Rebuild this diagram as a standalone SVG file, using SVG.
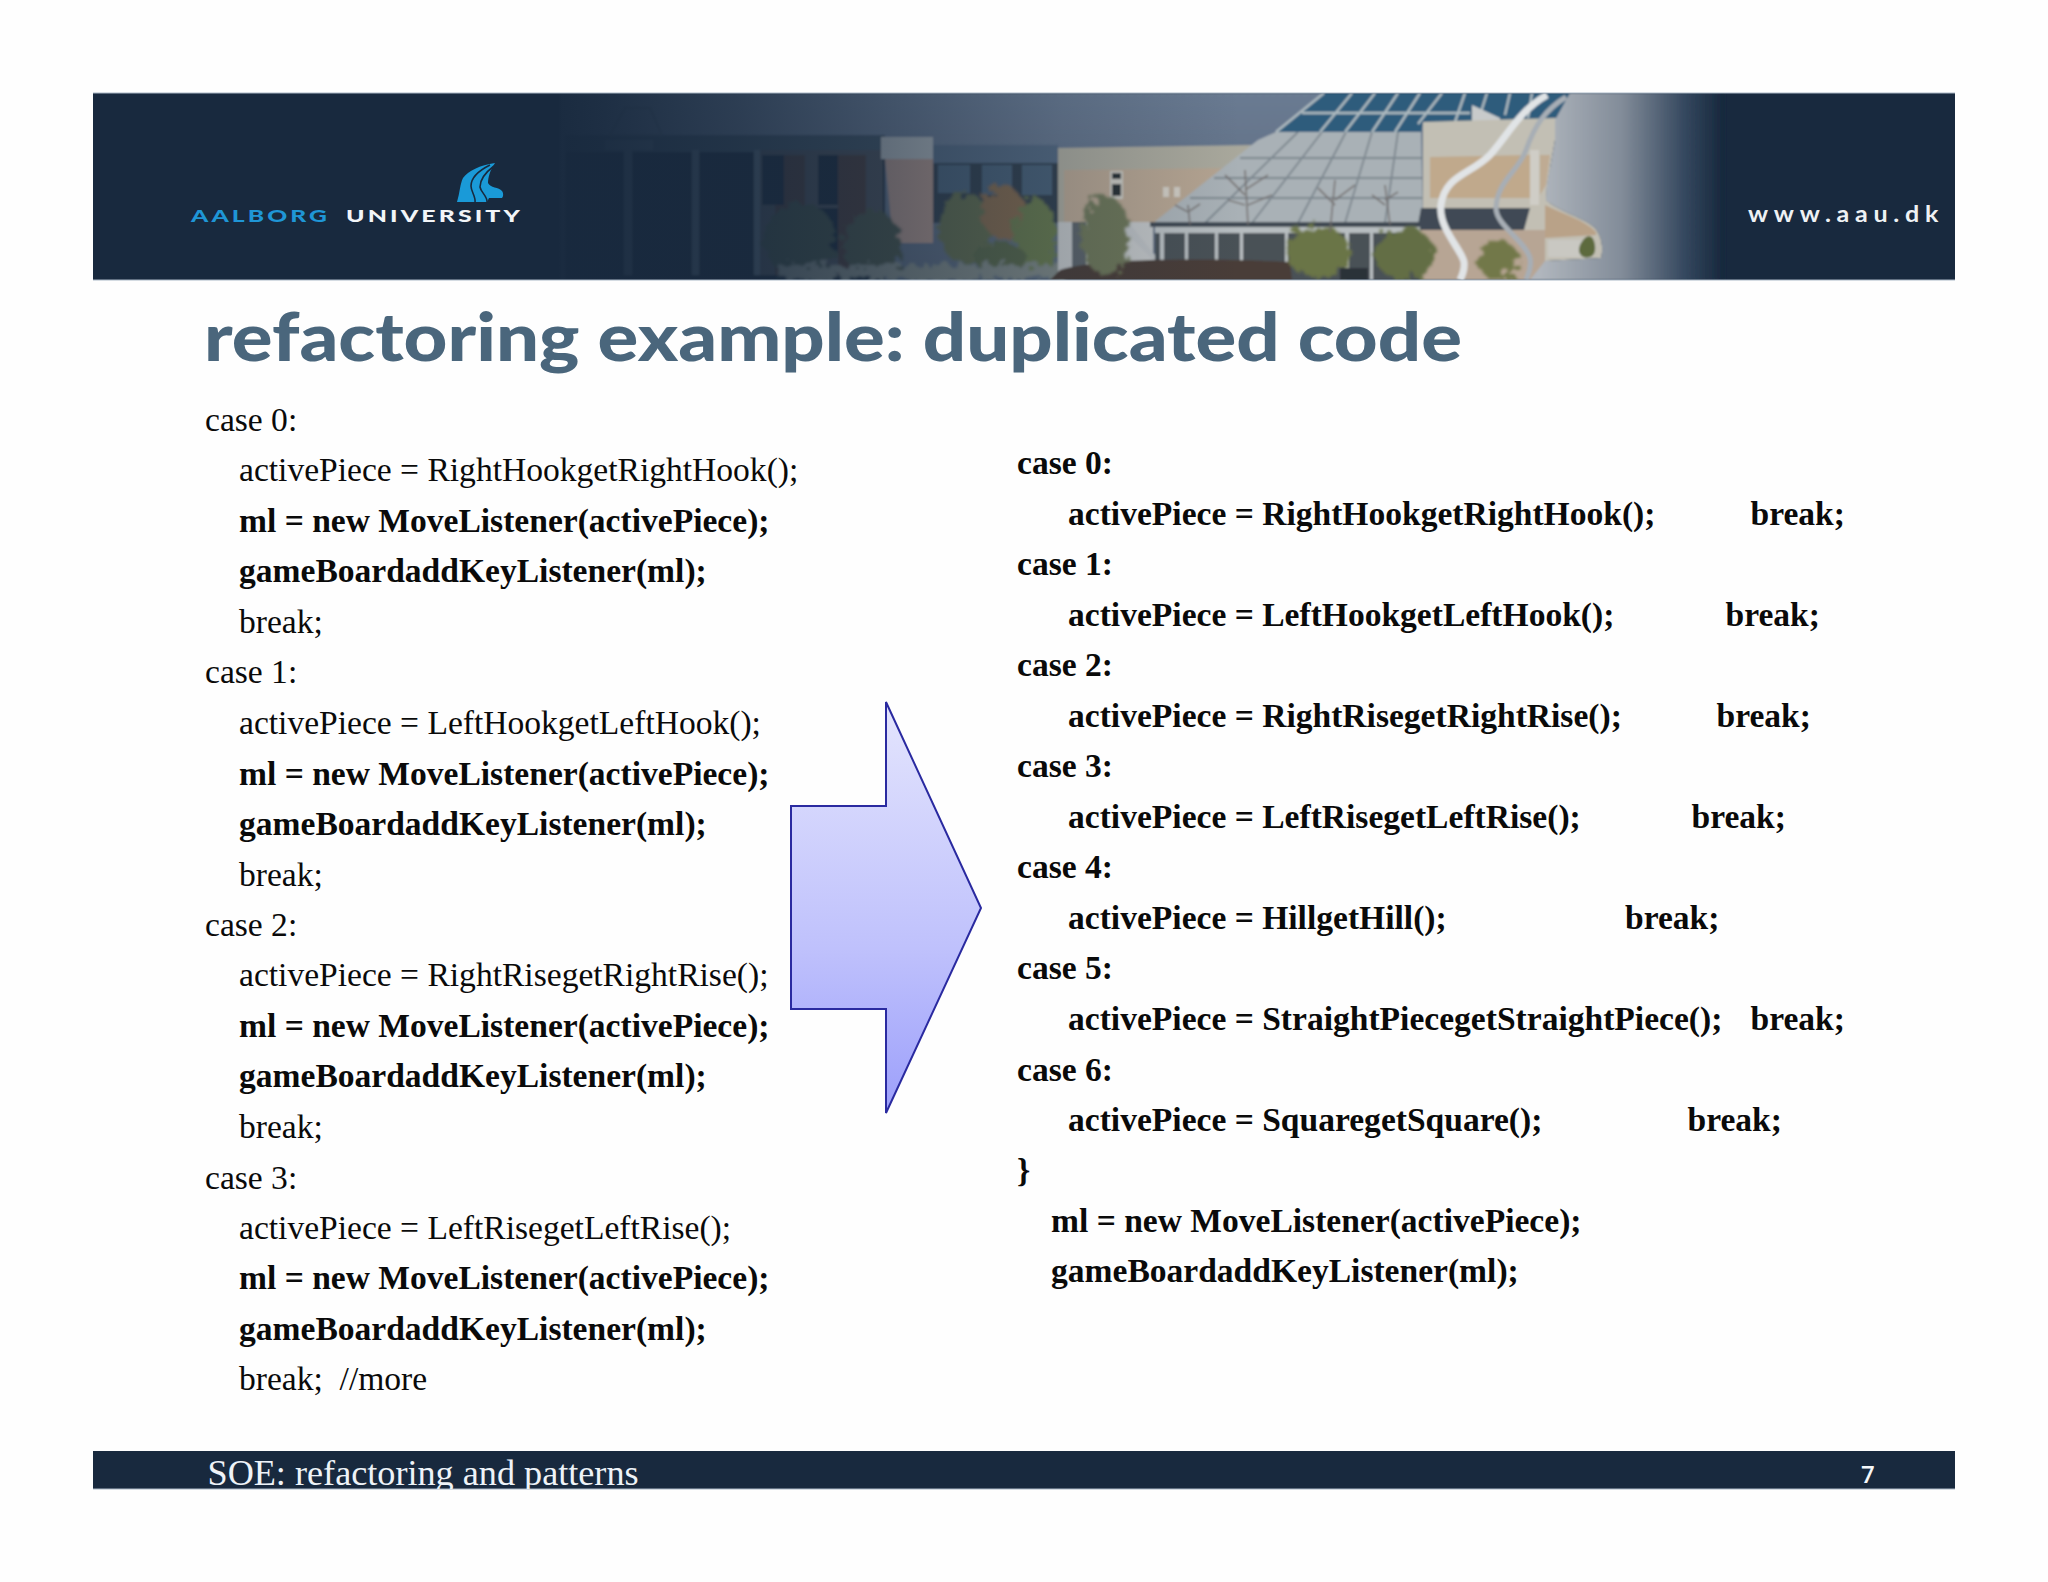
<svg xmlns="http://www.w3.org/2000/svg" width="2048" height="1582" viewBox="0 0 2048 1582">
<style>
.t{font-family:"Liberation Serif","Times New Roman",serif;font-size:33.55px;fill:#0a0a0a}
.b{font-weight:700}
.s{font-family:Lato,"Open Sans",sans-serif;font-weight:900}
.glass{stroke:#7d878f;stroke-width:1.8;fill:none}
.pane{stroke:#aebabf;stroke-width:2.4;fill:none}
.twig{stroke:#6f6a68;stroke-width:1.8;fill:none;opacity:.75}
</style>
<defs>
<linearGradient id="arrowFill" x1="0" y1="0" x2="0" y2="1"><stop offset="0" stop-color="#e4e5fd"/><stop offset="0.6" stop-color="#bfc1fc"/><stop offset="1" stop-color="#9c9ffb"/></linearGradient>
<linearGradient id="fade" gradientUnits="userSpaceOnUse" x1="530" y1="0" x2="1240" y2="0"><stop offset="0" stop-color="#18293e" stop-opacity="1"/><stop offset="0.1" stop-color="#18293e" stop-opacity=".93"/><stop offset="0.3" stop-color="#18293e" stop-opacity=".74"/><stop offset="0.5" stop-color="#18293e" stop-opacity=".5"/><stop offset="0.75" stop-color="#18293e" stop-opacity=".2"/><stop offset="1" stop-color="#18293e" stop-opacity="0"/></linearGradient>
<linearGradient id="rightFade" gradientUnits="userSpaceOnUse" x1="1540" y1="0" x2="1722" y2="0"><stop offset="0" stop-color="#b0b6bd"/><stop offset="0.45" stop-color="#828c99"/><stop offset="0.8" stop-color="#34475e"/><stop offset="1" stop-color="#18293e"/></linearGradient>
<linearGradient id="sky" x1="0" y1="0" x2="0" y2="1"><stop offset="0" stop-color="#6a7b92"/><stop offset="1" stop-color="#59677a"/></linearGradient>
<filter id="soft" x="-2%" y="-5%" width="104%" height="110%"><feGaussianBlur stdDeviation="1.3"/></filter>
<filter id="leaf" x="-20%" y="-20%" width="140%" height="140%"><feTurbulence type="fractalNoise" baseFrequency="0.12" numOctaves="2" seed="4" result="n"/><feDisplacementMap in="SourceGraphic" in2="n" scale="22"/><feGaussianBlur stdDeviation="1.2"/></filter>
<clipPath id="bannerClip"><rect x="93" y="93" width="1862" height="187"/></clipPath>
<clipPath id="footClip"><rect x="93" y="1451" width="1862" height="38"/></clipPath>
</defs>
<rect width="2048" height="1582" fill="#fefefe"/>

<g id="banner" clip-path="url(#bannerClip)">
<rect x="93" y="93" width="1862" height="187" fill="#18293e"/>
<g id="photo" filter="url(#soft)">
<rect x="560" y="93" width="990" height="187" fill="url(#sky)"/>
<!-- left wing -->
<rect x="565" y="150" width="320" height="130" fill="#1d2b3a"/>
<rect x="565" y="135" width="320" height="17" fill="#3f5264"/>
<path d="M610 135 L625 108 L650 108 L662 135Z" fill="none" stroke="#566676" stroke-width="2"/>
<path d="M605 140h48v10h-48z" fill="#586a7a"/>
<path d="M624 150h8v125h-8zM692 150h7v125h-7zM754 150h6v125h-6z" fill="#5a6b78"/>
<rect x="760" y="150" width="123" height="125" fill="#4a5058"/>
<path d="M775 155h30v120h-30zM838 155h28v120h-28z" fill="#4a3c3c"/>
<path d="M762 155h22v50h-22zM818 155h20v50h-20zM818 208h20v45h-20z" fill="#1b2a3a"/>
<path d="M883 137h50v106h-40z" fill="#a99087"/>
<path d="M881 137h52v22h-52z" fill="#a8afb3"/>
<rect x="933" y="145" width="125" height="18" fill="#53687f"/>
<rect x="933" y="163" width="125" height="60" fill="#333f4d"/>
<path d="M938 165h32v28h-32zM982 165h30v30h-30zM1022 165h30v30h-30z" fill="#4a6076"/>
<!-- trees left -->
<g filter="url(#leaf)">
<ellipse cx="800" cy="240" rx="36" ry="38" fill="#414f46"/>
<ellipse cx="872" cy="245" rx="30" ry="34" fill="#46534a"/>
<ellipse cx="965" cy="228" rx="26" ry="36" fill="#5f6a4e"/>
<ellipse cx="1003" cy="212" rx="22" ry="26" fill="#80684e"/>
<ellipse cx="1035" cy="238" rx="22" ry="40" fill="#66784e"/>
<ellipse cx="1000" cy="258" rx="26" ry="16" fill="#566548"/>
<rect x="780" y="265" width="290" height="15" fill="#7d8683"/>
</g>
<!-- middle wall -->
<path d="M1058 148 L1255 145 L1155 223 L1125 280 L1058 280Z" fill="#a9a89c"/>
<path d="M1064 170 L1230 168 L1160 222 L1064 222Z" fill="#b5a491"/>
<rect x="1058" y="222" width="95" height="58" fill="#c0c3c4"/>
<path d="M1072 222h14v45h-14zM1090 225h10v40h-10z" fill="#5c6369"/>
<rect x="1110" y="171" width="13" height="28" fill="#c9c8c0"/><rect x="1112" y="173" width="9" height="6" fill="#2c3036"/><rect x="1112" y="184" width="9" height="12" fill="#2c3036"/>
<path d="M1163 187h6v10h-6zM1174 187h6v10h-6z" fill="#cfcbc2"/>
<!-- lower glass roof -->
<path d="M1258 140 L1276 132 L1421 132 L1423 223 L1153 223Z" fill="#a9b1b6"/>
<path class="glass" d="M1298 132 L1205 223M1322 132 L1252 223M1346 132 L1298 223M1372 132 L1345 223M1398 132 L1385 223M1240 158H1422M1214 178H1422M1190 198H1423"/>
<!-- upper glass -->
<path d="M1324 93 L1572 93 L1555 120 L1423 122 L1421 132 L1276 132Z" fill="#2f5c7c"/>
<path class="pane" d="M1324 93 L1276 132M1302 113H1470M1352 93 L1320 132M1375 93 L1345 132M1398 93 L1372 132M1420 93 L1395 132M1442 93 L1418 124M1465 93 L1455 122M1487 93 L1480 115M1510 93 L1505 115M1532 93 L1528 118"/>
<path d="M1472 122 L1472 105 L1500 118 L1500 122Z" fill="#c8cacb"/>
<!-- right wall with piano tail -->
<path d="M1423 122 L1557 118 L1555 140 L1547 185 L1546 200 C1560 212 1585 218 1595 228 C1603 238 1603 250 1601 258 L1545 261 L1530 280 L1423 280Z" fill="#c2bfb4"/>
<path d="M1430 157 L1530 155 L1530 198 L1430 198Z" fill="#c0a98c"/>
<path d="M1540 155 L1550 155 L1546 185 L1540 195Z" fill="#bfab93"/>
<path d="M1545 205 C1565 215 1585 220 1596 232 L1596 235 L1545 238Z" fill="#b9a288"/>
<rect x="1548" y="240" width="38" height="17" fill="#c9c8c2"/>
<path d="M1580 245c6-12 12-10 14-4s2 14-4 16-14-2-10-12z" fill="#5d6b3e"/>
<rect x="1530" y="150" width="9" height="55" fill="#cfcdc6"/>
<path d="M1421 208 L1530 208 L1524 230 L1417 230Z" fill="#3f4a55"/>
<path d="M1417 231h107v5h-107z" fill="#aab0b2"/>
<!-- ground storey -->
<rect x="1150" y="222" width="270" height="5" fill="#414a52"/>
<rect x="1155" y="227" width="265" height="6" fill="#b7bdc0"/>
<rect x="1155" y="233" width="265" height="47" fill="#4a5156"/>
<path d="M1160 233h4v40h-4zM1185 233h3v40h-3zM1215 233h3v40h-3zM1240 233h3v40h-3zM1285 233h3v47h-3zM1345 233h4v47h-4zM1370 233h3v47h-3z" fill="#b9bfc2"/>
<path d="M1128 222 L1155 255 L1155 262 L1125 232Z" fill="#b9bdc0"/>
<rect x="1420" y="230" width="125" height="50" fill="#b7a594"/>
<!-- hedge and trees -->
<path d="M1050 280 L1060 270 C1100 258 1200 258 1290 262 L1292 280Z" fill="#4a3d37"/>
<g filter="url(#leaf)">
<ellipse cx="1105" cy="235" rx="24" ry="40" fill="#6d7658"/>
<ellipse cx="1318" cy="252" rx="32" ry="26" fill="#6b7547"/>
<ellipse cx="1405" cy="254" rx="30" ry="26" fill="#636e44"/>
<ellipse cx="1498" cy="260" rx="20" ry="20" fill="#727849"/>
</g>
<rect x="1340" y="268" width="28" height="12" fill="#2c3238"/>
<path class="twig" d="M1248 225 L1245 170M1245 195 L1225 175M1245 190 L1268 175M1245 205 L1228 200M1248 205 L1272 195M1330 232 L1335 180M1335 205 L1318 188M1335 200 L1355 185M1390 225 L1385 185M1385 205 L1372 195M1385 200 L1398 192M1190 225 L1188 205M1188 212 L1175 205M1188 212 L1200 204"/>
<!-- grey tail fade -->
<path d="M1557 93 L1725 93 L1725 280 L1530 280 L1545 261 L1601 258 C1603 250 1603 238 1595 228 C1585 218 1560 212 1546 200 L1547 185 L1555 140 L1555 120 L1570 93Z" fill="url(#rightFade)"/>
<!-- swooshes -->
<path d="M1566 97 C1545 110 1535 125 1526 150 C1518 172 1498 180 1496 207 C1495 225 1525 240 1530 258 C1532 268 1528 274 1526 280" fill="none" stroke="#a7aeb5" stroke-width="5"/>
<path d="M1547 95 C1520 110 1508 135 1490 155 C1470 175 1445 175 1441 205 C1438 228 1462 250 1464 262 C1465 270 1462 276 1460 280" fill="none" stroke="#e1e4e6" stroke-width="7"/>
</g>
<rect x="530" y="93" width="710" height="187" fill="url(#fade)"/>
<g id="logo">
<path d="M457 202 C460 192 460 184 463 178 C468 171 480 165 495 163 C490 170 488 178 488 183 C490 188 499 187 502 191 C504 194 503 197 502 198 L489 198 L487 202 L474 202 L471 202Z" fill="#1a9ad8"/>
<path d="M490 165 C478 171 471 178 471 186 C471 192 476 196 475 203M494 166 C486 172 480 180 480 187 C481 193 488 196 487 203" fill="none" stroke="#18293e" stroke-width="1.6"/>
</g>
<text class="s" x="191" y="221.5" font-size="16" letter-spacing="2" fill="#1f96d6" textLength="139" lengthAdjust="spacingAndGlyphs">AALBORG</text>
<text class="s" x="346" y="221.5" font-size="16" letter-spacing="2" fill="#f2f5f8" textLength="177" lengthAdjust="spacingAndGlyphs">UNIVERSITY</text>
<text class="s" x="1748" y="222" font-size="22" fill="#eef1f4" letter-spacing="5" textLength="196" lengthAdjust="spacingAndGlyphs" style="font-weight:700">www.aau.dk</text>
</g>
<rect x="93" y="92.5" width="1862" height="1" fill="#a9b8c6"/>
<rect x="93" y="279.5" width="1862" height="1" fill="#a9b8c6"/>

<text id="title" class="s" x="204" y="361" font-size="66" fill="#4a667c" textLength="1258" lengthAdjust="spacingAndGlyphs" style="font-weight:900">refactoring example: duplicated code</text>

<g id="left-code" class="t">
<text x="205" y="430.5">case 0:</text>
<text x="239" y="481">activePiece = RightHookgetRightHook();</text>
<text class="b" x="239" y="531.5">ml = new MoveListener(activePiece);</text>
<text class="b" x="239" y="582">gameBoardaddKeyListener(ml);</text>
<text x="239" y="632.5">break;</text>
<text x="205" y="683">case 1:</text>
<text x="239" y="733.5">activePiece = LeftHookgetLeftHook();</text>
<text class="b" x="239" y="784.5">ml = new MoveListener(activePiece);</text>
<text class="b" x="239" y="834.5">gameBoardaddKeyListener(ml);</text>
<text x="239" y="885.5">break;</text>
<text x="205" y="936">case 2:</text>
<text x="239" y="986">activePiece = RightRisegetRightRise();</text>
<text class="b" x="239" y="1037">ml = new MoveListener(activePiece);</text>
<text class="b" x="239" y="1087">gameBoardaddKeyListener(ml);</text>
<text x="239" y="1138">break;</text>
<text x="205" y="1188.5">case 3:</text>
<text x="239" y="1238.5">activePiece = LeftRisegetLeftRise();</text>
<text class="b" x="239" y="1289">ml = new MoveListener(activePiece);</text>
<text class="b" x="239" y="1339.5">gameBoardaddKeyListener(ml);</text>
<text x="239" y="1390" xml:space="preserve">break;  //more</text>
</g>

<g id="arrow">
<path d="M791 806 H886 V702 L981 908 L886 1113 V1009 H791Z" fill="url(#arrowFill)" stroke="#2a2aa0" stroke-width="2"/>
</g>

<g id="right-code" class="t b">
<text x="1017" y="473.5">case 0:</text>
<text x="1068" y="524.5">activePiece = RightHookgetRightHook();</text><text x="1750.5" y="524.5">break;</text>
<text x="1017" y="574.5">case 1:</text>
<text x="1068" y="625.5">activePiece = LeftHookgetLeftHook();</text><text x="1725.5" y="625.5">break;</text>
<text x="1017" y="676">case 2:</text>
<text x="1068" y="726.5">activePiece = RightRisegetRightRise();</text><text x="1716.5" y="726.5">break;</text>
<text x="1017" y="777">case 3:</text>
<text x="1068" y="828">activePiece = LeftRisegetLeftRise();</text><text x="1691.5" y="828">break;</text>
<text x="1017" y="878">case 4:</text>
<text x="1068" y="929">activePiece = HillgetHill();</text><text x="1625" y="929">break;</text>
<text x="1017" y="979">case 5:</text>
<text x="1068" y="1030">activePiece = StraightPiecegetStraightPiece();</text><text x="1750.5" y="1030">break;</text>
<text x="1017" y="1080.5">case 6:</text>
<text x="1068" y="1131">activePiece = SquaregetSquare();</text><text x="1687.5" y="1131">break;</text>
<text x="1017" y="1181.5">}</text>
<text x="1051" y="1232">ml = new MoveListener(activePiece);</text>
<text x="1051" y="1282">gameBoardaddKeyListener(ml);</text>
</g>

<g id="footer">
<rect x="93" y="1451" width="1862" height="38" fill="#18293e"/>
<rect x="93" y="1488.5" width="1862" height="1" fill="#a9b8c6"/>
<g clip-path="url(#footClip)"><text x="207.5" y="1485" style="font-family:'Liberation Serif','Times New Roman',serif;font-size:36.2px" fill="#eef3f8">SOE: refactoring and patterns</text></g>
<text x="1861" y="1483" style="font-family:'Open Sans','Noto Sans',sans-serif;font-size:24px;font-weight:600" fill="#f5f7fa">7</text>
</g>
</svg>
